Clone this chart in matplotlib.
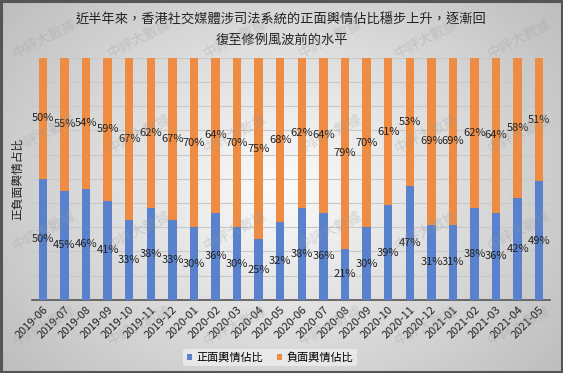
import matplotlib
matplotlib.use('Agg')
import matplotlib.pyplot as plt
import numpy as np

plt.rcParams['font.family'] = ['Noto Sans CJK TC', 'DejaVu Sans']

months = ['2019-06', '2019-07', '2019-08', '2019-09', '2019-10', '2019-11', '2019-12',
          '2020-01', '2020-02', '2020-03', '2020-04', '2020-05', '2020-06', '2020-07',
          '2020-08', '2020-09', '2020-10', '2020-11', '2020-12', '2021-01', '2021-02',
          '2021-03', '2021-04', '2021-05']
positive = [50, 45, 46, 41, 33, 38, 33, 30, 36, 30, 25, 32, 38, 36, 21, 30, 39, 47, 31, 31, 38, 36, 42, 49]
negative = [50, 55, 54, 59, 67, 62, 67, 70, 64, 70, 75, 68, 62, 64, 79, 70, 61, 53, 69, 69, 62, 64, 58, 51]

title = '近半年來，香港社交媒體涉司法系統的正面輿情佔比穩步上升，逐漸回\n復至修例風波前的水平'
ylabel = '正負面輿情占比'
legend_labels = ['正面輿情佔比', '負面輿情佔比']
watermark = '中評大數據'

blue = '#5a82cc'
orange = '#ef8c44'

W, H = 563, 373
fig = plt.figure(figsize=(5.63, 3.73), dpi=100)

# gradient background
bg = fig.add_axes([0, 0, 1, 1], zorder=-10)
yy, xx = np.mgrid[-1:1:200j, -1:1:300j]
r = np.sqrt(xx**2 * 0.9 + yy**2 * 0.6)
shade = 0.985 - 0.2 * np.clip(r, 0, 1.3)
bg.imshow(shade, cmap='gray', vmin=0, vmax=1, aspect='auto', extent=[0, 1, 0, 1])
bg.set_xlim(0, 1)
bg.set_ylim(0, 1)
bg.axis('off')
bg.add_patch(plt.Rectangle((0.002, 0.003), 0.996, 0.994, fill=False,
                           edgecolor='#555555', linewidth=2.2))

# watermarks (pixel positions of the lower-left end)
for wy in [58, 153, 250, 345]:
    for wx in [15, 110, 206, 301, 397, 490]:
        fig.text(wx / W, 1 - wy / H, watermark, rotation=27, rotation_mode='anchor',
                 ha='left', va='baseline', fontsize=10, color='#999999',
                 alpha=0.32, zorder=20)

ax = fig.add_axes([0.057, 0.196, 0.92, 0.649])
ax.patch.set_alpha(0)
x = np.arange(len(months))
w = 0.39
ax.bar(x, positive, w, color=blue, label=legend_labels[0], zorder=3)
ax.bar(x, negative, w, bottom=positive, color=orange, label=legend_labels[1], zorder=3)

for i in range(len(months)):
    ax.text(x[i], positive[i] / 2, f'{positive[i]}%', ha='center', va='center',
            fontsize=8, color='#222222', zorder=5)
    ax.text(x[i], positive[i] + negative[i] / 2, f'{negative[i]}%', ha='center',
            va='center', fontsize=8, color='#222222', zorder=5)

ax.set_xlim(-0.5, len(months) - 0.5)
ax.set_ylim(0, 100)
ax.set_yticks(np.arange(0, 101, 10))
ax.yaxis.grid(True, color='#c8c8c8', linewidth=0.8, zorder=0)
ax.tick_params(axis='y', length=0, labelleft=False)
ax.set_xticks(x)
ax.set_xticklabels(months, rotation=45, ha='right', rotation_mode='anchor',
                   fontsize=8, color='#222222')
ax.tick_params(axis='x', length=0, pad=3)
for s in ['top', 'right', 'left']:
    ax.spines[s].set_visible(False)
ax.spines['bottom'].set_color('#555555')
ax.spines['bottom'].set_linewidth(1.2)
ax.set_ylabel(ylabel, fontsize=8.5, color='#222222', labelpad=6)

fig.text(0.5, 0.918, title, ha='center', va='center', fontsize=9.5,
         color='#222222', linespacing=1.7)

leg = fig.legend(loc='center', bbox_to_anchor=(0.48, 0.042), ncol=2, fontsize=8,
                 frameon=True, handlelength=0.5, handleheight=0.5,
                 handletextpad=0.4, columnspacing=1.2, borderpad=0.3)
leg.get_frame().set_facecolor('#eeeeee')
leg.get_frame().set_edgecolor('none')
leg.get_frame().set_alpha(0.8)

fig.savefig('out.png', dpi=100)
